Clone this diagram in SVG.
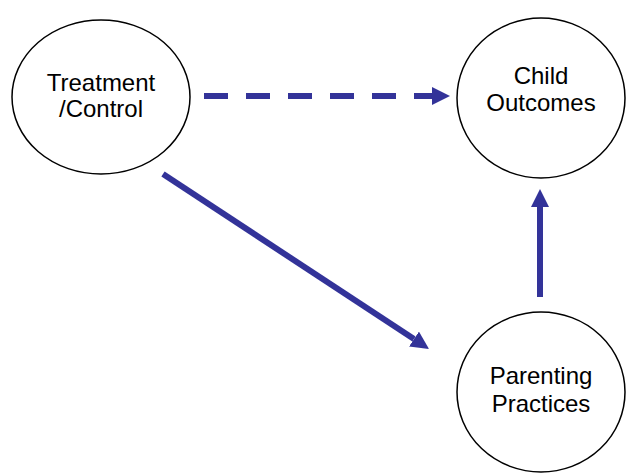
<svg xmlns="http://www.w3.org/2000/svg" width="627" height="473" viewBox="0 0 627 473">
  <style>
    .node ellipse { fill: #ffffff; stroke: #000000; stroke-width: 1.5; }
    .node text { font-family: "Liberation Sans", Arial, sans-serif; font-size: 24px; fill: #000000; text-anchor: middle; }
    .edge { stroke: #333399; stroke-width: 6; fill: none; }
    .dashed { stroke-dasharray: 24 18; }
  </style>
  <defs>
    <marker id="head" markerUnits="userSpaceOnUse" markerWidth="18" markerHeight="18" refX="0" refY="9" orient="auto" viewBox="0 0 18 18">
      <path d="M0,0 L18,9 L0,18 Z" fill="#333399"/>
    </marker>
  </defs>
  <rect width="627" height="473" fill="#ffffff"/>

  <g id="treatment" class="node">
    <ellipse cx="101" cy="97" rx="89" ry="77"/>
    <text x="101" y="91">Treatment</text>
    <text x="101" y="117">/Control</text>
  </g>

  <g id="child-outcomes" class="node">
    <ellipse cx="541" cy="98" rx="84" ry="80"/>
    <text x="541" y="84">Child</text>
    <text x="541" y="111">Outcomes</text>
  </g>

  <g id="parenting-practices" class="node">
    <ellipse cx="541" cy="392" rx="84" ry="80"/>
    <text x="541" y="384">Parenting</text>
    <text x="541" y="412">Practices</text>
  </g>

  <g id="connectors">
    <line class="edge dashed" x1="204" y1="96" x2="432" y2="96" marker-end="url(#head)"/>
    <line class="edge" x1="163" y1="174" x2="414" y2="339.1" marker-end="url(#head)"/>
    <line class="edge" x1="540" y1="297" x2="540" y2="207" marker-end="url(#head)"/>
  </g>
</svg>
